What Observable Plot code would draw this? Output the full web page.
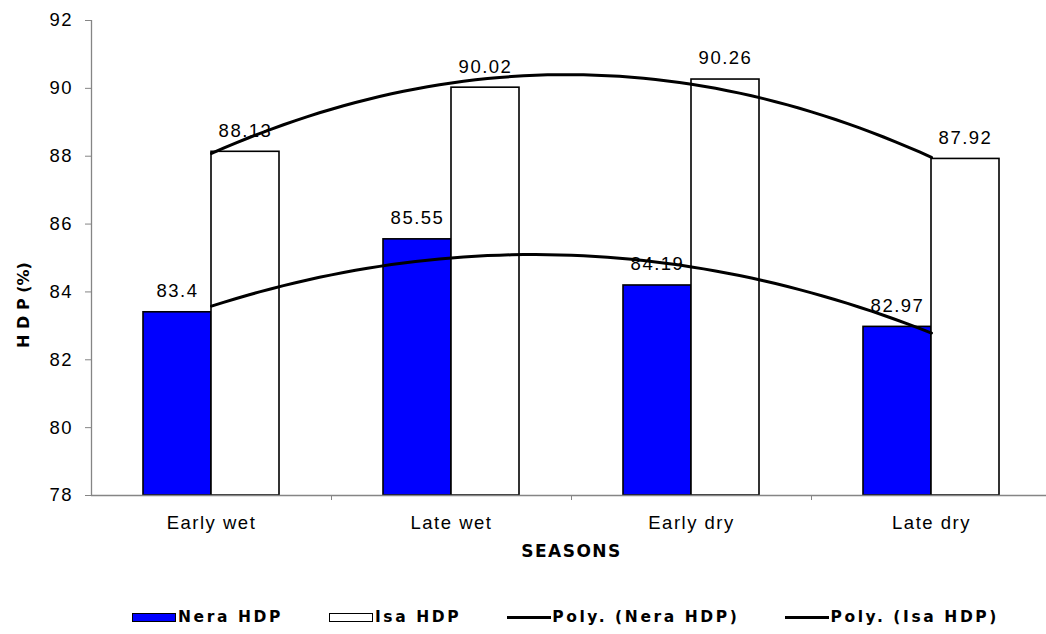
<!DOCTYPE html>
<html>
<head>
<meta charset="utf-8">
<script src="https://cdn.jsdelivr.net/npm/d3@7"></script>
<script src="https://cdn.jsdelivr.net/npm/@observablehq/plot@0.6"></script>
<style>
  body { margin: 0; background: #fff; font-family: "Liberation Sans", Arial, sans-serif; }
  #wrap { position: relative; width: 1046px; height: 634px; overflow: hidden; }
  #legend { position: absolute; top: 606px; left: 85px; width: 961px; height: 22px;
            display: flex; justify-content: center; align-items: center; gap: 46px;
            font-family: "DejaVu Sans", sans-serif;
            font-weight: bold; font-size: 15.5px; letter-spacing: 2.6px; color: #000; }
  .item { display: flex; align-items: center; white-space: nowrap; }
  .sw { width: 44px; height: 9px; border: 1.3px solid #000; box-sizing: border-box; margin-right: 2px; }
  .ln { width: 44px; height: 3px; background: #000; margin-right: 1px; }
</style>
</head>
<body>
<div id="wrap"></div>
<script>
// ---- data ----
const seasons = ["Early wet", "Late wet", "Early dry", "Late dry"];
const neraHDP = [83.4, 85.55, 84.19, 82.97];
const isaHDP = [88.13, 90.02, 90.26, 87.92];
const seriesNames = ["Nera HDP", "Isa HDP"];
const yTicks = [78, 80, 82, 84, 86, 88, 90, 92];
const yDomain = [78, 92];
const yLabel = "H D P (%)";
const xLabel = "SEASONS";
const legendLabels = ["Nera HDP", "Isa HDP", "Poly. (Nera HDP)", "Poly. (Isa HDP)"];

// ---- style constants ----
const barW = 68 / 240;          // bar width as fraction of a category step
const neraColor = "#0000FF";
const axisGrey = "#858585";

// ---- table built from the arrays ----
const rows = [];
seasons.forEach((s, i) => {
  rows.push({season: s, pos: i + 1, series: seriesNames[0], value: neraHDP[i], x1: i + 1 - barW, x2: i + 1});
  rows.push({season: s, pos: i + 1, series: seriesNames[1], value: isaHDP[i], x1: i + 1, x2: i + 1 + barW});
});

// ---- order-2 polynomial trend (least squares), like a spreadsheet "Poly." trendline ----
function quadFit(ys) {
  const xs = ys.map((_, i) => i + 1);
  const S = k => d3.sum(xs, x => x ** k);
  const T = k => d3.sum(xs, (x, i) => x ** k * ys[i]);
  const A = [[S(0), S(1), S(2), T(0)], [S(1), S(2), S(3), T(1)], [S(2), S(3), S(4), T(2)]];
  for (let c = 0; c < 3; c++) {
    for (let r = c + 1; r < 3; r++) {
      const f = A[r][c] / A[c][c];
      for (let k = c; k < 4; k++) A[r][k] -= f * A[c][k];
    }
  }
  const b = [0, 0, 0];
  for (let r = 2; r >= 0; r--) {
    let s = A[r][3];
    for (let k = r + 1; k < 3; k++) s -= A[r][k] * b[k];
    b[r] = s / A[r][r];
  }
  return x => b[0] + b[1] * x + b[2] * x * x;
}
const trendRows = [];
[[seriesNames[0], neraHDP], [seriesNames[1], isaHDP]].forEach(([name, vals]) => {
  const f = quadFit(vals);
  d3.range(1, vals.length + 0.0001, 0.05).forEach(x => trendRows.push({series: name, x, y: f(x)}));
});

// ---- chart ----
const chart = Plot.plot({
  width: 1046,
  height: 580,
  marginTop: 20,
  marginBottom: 85,
  marginLeft: 91,
  marginRight: -5,
  x: {domain: [0.5, seasons.length + 0.5], axis: null},
  y: {domain: yDomain, axis: null},
  style: {fontFamily: "'Liberation Sans', Arial, sans-serif", fontSize: "18.5px", color: "#000", background: "#fff", letterSpacing: "1.5px"},
  marks: [
    Plot.rect(rows, {
      x1: "x1", x2: "x2", y1: yDomain[0], y2: "value",
      fill: d => d.series === seriesNames[0] ? neraColor : "#fff",
      stroke: "#000", strokeWidth: 1.6
    }),
    Plot.ruleX([0.5], {stroke: axisGrey, strokeWidth: 1.3}),
    Plot.ruleY([yDomain[0]], {stroke: axisGrey, strokeWidth: 1.3}),
    Plot.axisY({ticks: yTicks, tickSize: 6, tickPadding: 12.5, stroke: axisGrey, fill: "#000", label: null, fontSize: 18.5}),
    Plot.axisX({ticks: d3.range(1.5, seasons.length + 1, 1), tickSize: 5, text: null, stroke: axisGrey, label: null}),
    Plot.axisX({ticks: d3.range(1, seasons.length + 1), tickFormat: i => seasons[i - 1], tickSize: 0, tickPadding: 20, label: null, fill: "#000", fontSize: 18.5}),
    Plot.text(rows, {
      x: d => (d.x1 + d.x2) / 2, y: "value", text: d => String(d.value),
      dy: -21, fill: "#000", fontSize: 18.5
    }),
    Plot.line(trendRows, {x: "x", y: "y", z: "series", stroke: "#000", strokeWidth: 3}),
    Plot.text([xLabel], {frameAnchor: "bottom", dy: 61, fontWeight: "bold", fontSize: 17, fill: "#000", fontFamily: "'DejaVu Sans', sans-serif", ariaLabel: "x-title"})
  ]
});
d3.select(chart).selectAll('g[aria-label="x-title"] text').style("letter-spacing", "3px");

// y-axis title (rotated), placed beside the axis
d3.select(chart).append("text")
  .attr("transform", "translate(29,305) rotate(-90)")
  .attr("text-anchor", "middle")
  .attr("font-family", "'DejaVu Sans', sans-serif")
  .attr("font-weight", "bold")
  .attr("font-size", 16)
  .attr("fill", "#000")
  .style("letter-spacing", "0px")
  .text(yLabel);

const wrap = document.getElementById("wrap");
wrap.appendChild(chart);

// ---- legend (HTML, below the SVG) ----
const legend = document.createElement("div");
legend.id = "legend";
const kinds = [
  {cls: "sw", bg: neraColor},
  {cls: "sw", bg: "#fff"},
  {cls: "ln"},
  {cls: "ln"}
];
legendLabels.forEach((lab, i) => {
  const item = document.createElement("div");
  item.className = "item";
  const sym = document.createElement("span");
  sym.className = kinds[i].cls;
  if (kinds[i].bg) sym.style.background = kinds[i].bg;
  const t = document.createElement("span");
  t.textContent = lab;
  item.appendChild(sym);
  item.appendChild(t);
  legend.appendChild(item);
});
wrap.appendChild(legend);
</script>
</body>
</html>
